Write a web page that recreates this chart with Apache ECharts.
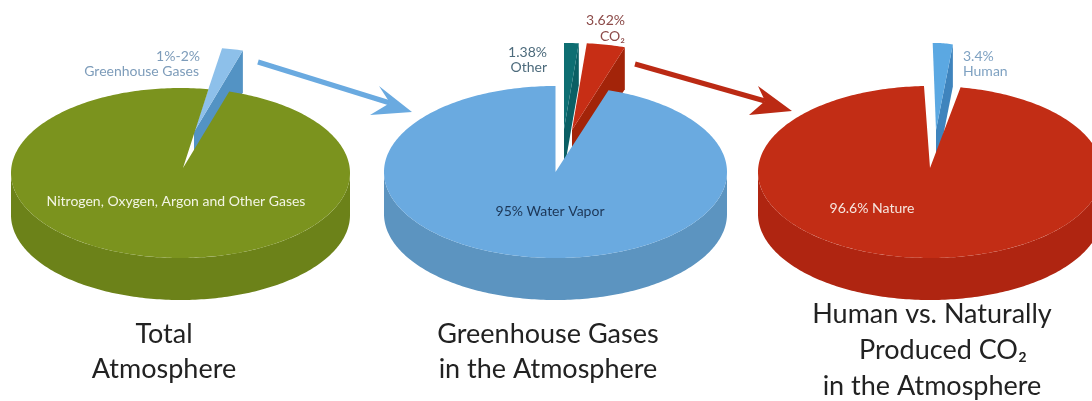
<!DOCTYPE html>
<html>
<head>
<meta charset="utf-8">
<style>html,body{margin:0;padding:0;background:#fff}#chart{width:1092px;height:401px}</style>
<script src="https://cdn.jsdelivr.net/npm/echarts@6/dist/echarts.min.js"></script>
</head>
<body>
<div id="chart"></div>
<script>
// Shares of each pie; the last entry of each list is the large body slice.
const atmosphereNames = ['Greenhouse Gases', 'Nitrogen, Oxygen, Argon and Other Gases'];
const atmosphereValues = [2, 98];
const greenhouseNames = ['Other', 'CO2', 'Water Vapor'];
const greenhouseValues = [1.38, 3.62, 95];
const co2Names = ['Human', 'Nature'];
const co2Values = [3.4, 96.6];

// Tilted-disc geometry and colours for each pie.
const atmosphereStyle = {
  cx: 180.5, cy: 173, rx: 169.5, ry: 85, depth: 42, tip: [183, 168], start: 9.5,
  top: '#7b931e', side: '#6c8219',
  wedges: [{ tip: [194, 132], rx: 170, ry: 85, top: '#8dc0ea', wall: '#5393c4' }]
};
const greenhouseStyle = {
  cx: 555.5, cy: 172, rx: 171.5, ry: 86, depth: 42, tip: [555.5, 172], start: 0,
  top: '#6aaae0', side: '#5c94c0',
  wedges: [
    { tip: [564, 129], rx: 171, ry: 86, top: '#0e6e72', wall: '#0b5f64' },
    { tip: [572, 130], rx: 171, ry: 87, top: '#c72e15', wall: '#a32409' }
  ]
};
const co2Style = {
  cx: 930, cy: 172, rx: 172, ry: 86, depth: 42, tip: [930, 168], start: -2,
  top: '#c22d15', side: '#af2511',
  wedges: [{ tip: [936, 130], rx: 95, ry: 87, top: '#5ba8e2', wall: '#3f84bd' }]
};

function rimPoint(cx, cy, rx, ry, deg) {
  const a = deg * Math.PI / 180;
  return [cx + rx * Math.sin(a), cy - ry * Math.cos(a)];
}
function arc(cx, cy, rx, ry, from, to) {
  const pts = [];
  const n = Math.max(1, Math.ceil(Math.abs(to - from)));
  for (let i = 0; i <= n; i++) pts.push(rimPoint(cx, cy, rx, ry, from + (to - from) * i / n));
  return pts;
}

// Draws one pie: exploded wedges first, then the body slice over them.
function pieSeries(name, names, values, look) {
  const total = values.reduce((s, v) => s + v, 0);
  return {
    type: 'custom',
    name: name,
    coordinateSystem: 'none',
    silent: true,
    animation: false,
    data: values.map((v, i) => ({ name: names[i], value: [v] })),
    renderItem: function (params, api) {
      let from = look.start;
      for (let i = 0; i < params.dataIndex; i++) from += values[i] / total * 360;
      const to = from + api.value(0) / total * 360;
      const children = [];
      const poly = (points, fill) => children.push({
        type: 'polygon', shape: { points: points }, style: { fill: fill }
      });
      if (params.dataIndex < look.wedges.length) {
        const w = look.wedges[params.dataIndex];
        const corner = rimPoint(w.tip[0], w.tip[1], w.rx, w.ry, to);
        poly([w.tip, corner, [corner[0], corner[1] + look.depth], [w.tip[0], w.tip[1] + look.depth]], w.wall);
        poly([w.tip].concat(arc(w.tip[0], w.tip[1], w.rx, w.ry, from, to)), w.top);
      } else {
        const lo = Math.max(from, 90), hi = Math.min(to, 270);
        const rim = arc(look.cx, look.cy, look.rx, look.ry, lo, hi);
        const lower = arc(look.cx, look.cy + look.depth, look.rx, look.ry, hi, lo);
        poly(rim.concat(lower), look.side);
        poly([look.tip].concat(arc(look.cx, look.cy, look.rx, look.ry, from, to)), look.top);
      }
      return { type: 'group', children: children };
    }
  };
}

// Text placed on and around the pies: [text, x, y, align, colour].
const calloutLabels = [
  ['1%-2%', 200, 56, 'right', '#7d9cba'],
  ['Greenhouse Gases', 199, 71, 'right', '#7d9cba'],
  ['Nitrogen, Oxygen, Argon and Other Gases', 176, 201, 'center', '#f3f5e4'],
  ['1.38%', 547, 52, 'right', '#4d6b7c'],
  ['Other', 547, 67, 'right', '#4d6b7c'],
  ['3.62%', 625, 20, 'right', '#8c4a48'],
  ['CO₂', 625, 36, 'right', '#8c4a48'],
  ['95% Water Vapor', 550, 211, 'center', '#1c3656'],
  ['96.6% Nature', 872, 208, 'center', '#f6e6df'],
  ['3.4%', 963, 56, 'left', '#7fa2c2'],
  ['Human', 963, 71, 'left', '#7fa2c2']
];
const captionLabels = [
  ['Total', 164, 334],
  ['Atmosphere', 164, 369],
  ['Greenhouse Gases', 548, 334],
  ['in the Atmosphere', 548, 369],
  ['Human vs. Naturally', 932, 314],
  ['Produced CO₂', 943, 350],
  ['in the Atmosphere', 932, 386]
];
// Connector arrows between the pies: start, tip, upper barb, notch, lower barb.
const connectorArrows = [
  { from: [258, 62], notch: [390, 103], tip: [412, 112], upper: [379, 86], lower: [370, 115], color: '#6aaae0' },
  { from: [635, 64], notch: [765, 101], tip: [792, 111], upper: [758, 86], lower: [749, 115], color: '#bb2a14' }
];

const graphics = [];
connectorArrows.forEach(a => {
  graphics.push({
    type: 'line', silent: true,
    shape: { x1: a.from[0], y1: a.from[1], x2: a.notch[0], y2: a.notch[1] },
    style: { stroke: a.color, lineWidth: 5 }
  });
  graphics.push({
    type: 'polygon', silent: true,
    shape: { points: [a.tip, a.upper, a.notch, a.lower] },
    style: { fill: a.color }
  });
});
calloutLabels.forEach(l => graphics.push({
  type: 'text', silent: true, x: l[1], y: l[2], z: 10,
  style: {
    text: l[0], fill: l[4], align: l[3], verticalAlign: 'middle',
    font: '14px Lato, sans-serif'
  }
}));
captionLabels.forEach(l => graphics.push({
  type: 'text', silent: true, x: l[1], y: l[2], z: 10,
  style: {
    text: l[0], fill: '#222222', align: 'center', verticalAlign: 'middle',
    font: '27px Lato, sans-serif'
  }
}));

const chart = echarts.init(document.getElementById('chart'), null, { renderer: 'canvas' });
chart.setOption({
  backgroundColor: '#ffffff',
  animation: false,
  series: [
    pieSeries('Total Atmosphere', atmosphereNames, atmosphereValues, atmosphereStyle),
    pieSeries('Greenhouse Gases in the Atmosphere', greenhouseNames, greenhouseValues, greenhouseStyle),
    pieSeries('Human vs. Naturally Produced CO2 in the Atmosphere', co2Names, co2Values, co2Style)
  ],
  graphic: graphics
});
</script>
</body>
</html>
